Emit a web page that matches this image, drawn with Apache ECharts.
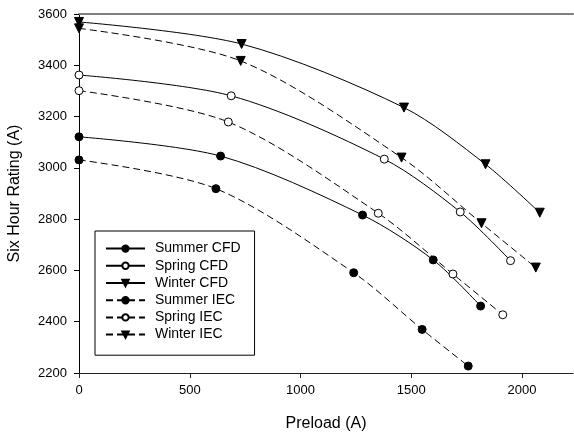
<!DOCTYPE html>
<html>
<head>
<meta charset="utf-8">
<script src="https://cdn.jsdelivr.net/npm/echarts@6/dist/echarts.min.js"></script>
<style>html,body{margin:0;padding:0;background:#fff}#c{width:574px;height:432px}</style>
</head>
<body>
<div id="c"></div>
<script>
const xTicks = [0, 500, 1000, 1500, 2000];
const preloadSummerCFD = [0, 639, 1280, 1599, 1813];
const summerCFD = [3121, 3046, 2816, 2641, 2461];
const preloadSpringCFD = [0, 687, 1378, 1721, 1948];
const springCFD = [3362, 3281, 3034, 2828, 2638];
const preloadWinterCFD = [0, 734, 1467, 1835, 2080];
const winterCFD = [3569, 3483, 3235, 3014, 2825];
const preloadSummerIEC = [0, 618, 1240, 1549, 1757];
const summerIEC = [3031, 2919, 2591, 2370, 2227];
const preloadSpringIEC = [0, 674, 1351, 1688, 1913];
const springIEC = [3301, 3179, 2823, 2586, 2427];
const preloadWinterIEC = [0, 730, 1456, 1817, 2062];
const winterIEC = [3544, 3417, 3040, 2784, 2611];

const FONT = 'Liberation Sans';
function pairs(xs, ys){ return xs.map((x,i)=>[x, ys[i]]); }
function mk(name, xs, ys, marker, dashed){
  const tri = marker === 'tri';
  const open = marker === 'open';
  return {
    name, type:'line', data: pairs(xs, ys), smooth: 0.3,
    symbol: tri ? 'triangle' : 'circle',
    symbolRotate: tri ? 180 : 0,
    symbolSize: tri ? 9 : 8,
    showAllSymbol: true,
    lineStyle: {color:'#000', width:1, type: dashed ? [7,4] : 'solid'},
    itemStyle: {color: open ? '#fff' : '#000', borderColor:'#000', borderWidth: 1},
    emphasis: {disabled: true},
    z: 3
  };
}
const fmt = v => String(v);
const chart = echarts.init(document.getElementById('c'), null, {renderer:'canvas'});
chart.setOption({
  animation: false,
  textStyle: {fontFamily: FONT},
  grid: {left: 79, right: 1, top: 14, bottom: 59, containLabel: false, outerBoundsMode: 'none'},
  xAxis: [{
    type:'value', min:0, max:2230, interval:500,
    name:'Preload (A)', nameLocation:'middle', nameGap:43,
    nameTextStyle:{fontSize:16, color:'#000', fontFamily:FONT},
    axisLine:{show:true, lineStyle:{color:'#222', width:1}},
    axisTick:{show:true, inside:false, length:5, customValues: xTicks, lineStyle:{color:'#222'}},
    axisLabel:{fontSize:13, color:'#000', margin:11, fontFamily:FONT, customValues: xTicks, formatter: fmt},
    splitLine:{show:false}
  },{
    type:'value', min:0, max:2230, position:'top',
    axisLine:{show:true, lineStyle:{color:'#808080', width:2}},
    axisTick:{show:false}, axisLabel:{show:false}, splitLine:{show:false}
  }],
  yAxis: {
    type:'value', min:2200, max:3600, interval:200,
    name:'Six Hour Rating (A)', nameLocation:'middle', nameGap:56,
    nameTextStyle:{fontSize:16, color:'#000', fontFamily:FONT},
    axisLine:{show:true, lineStyle:{color:'#000', width:1}},
    axisTick:{show:true, inside:false, length:5, lineStyle:{color:'#000'}},
    axisLabel:{fontSize:13, color:'#000', margin:12, fontFamily:FONT, formatter: fmt},
    splitLine:{show:false}
  },
  legend: {
    orient:'vertical', left:95, top:231,
    itemWidth:39, itemHeight:8, itemGap:0,
    padding:[9, 14, 12, 10],
    borderColor:'#000', borderWidth:1, backgroundColor:'#fff',
    textStyle:{fontSize:14, lineHeight:17.2, height:17.2, color:'#000', fontFamily:FONT, padding:[0,0,0,5]},
    selectedMode:false,
    data:['Summer CFD','Spring CFD','Winter CFD','Summer IEC','Spring IEC','Winter IEC']
  },
  series: [
    mk('Summer CFD', preloadSummerCFD, summerCFD, 'filled', false),
    mk('Spring CFD', preloadSpringCFD, springCFD, 'open', false),
    mk('Winter CFD', preloadWinterCFD, winterCFD, 'tri', false),
    mk('Summer IEC', preloadSummerIEC, summerIEC, 'filled', true),
    mk('Spring IEC', preloadSpringIEC, springIEC, 'open', true),
    mk('Winter IEC', preloadWinterIEC, winterIEC, 'tri', true)
  ]
});
</script>
</body>
</html>
